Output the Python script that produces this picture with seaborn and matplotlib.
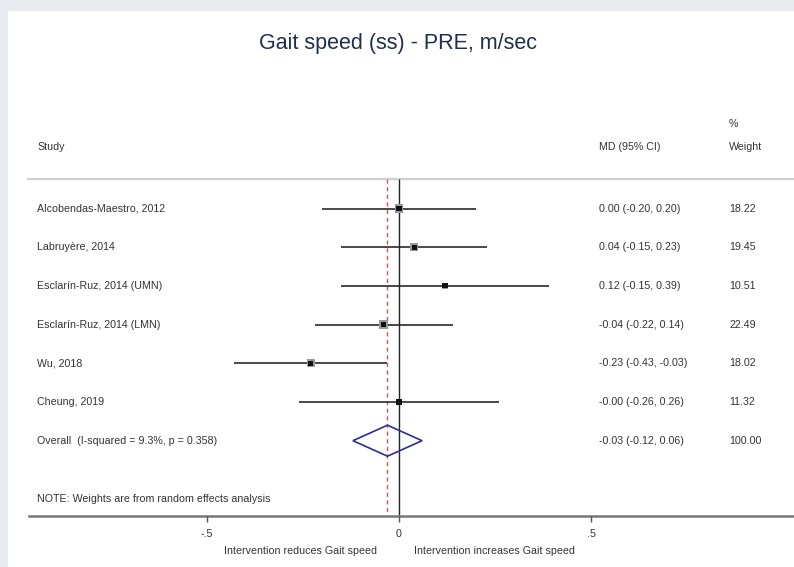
import matplotlib
matplotlib.use("Agg")
import matplotlib.pyplot as plt
import matplotlib.transforms as mtransforms
from matplotlib.patches import Rectangle, Polygon
import seaborn as sns
import pandas as pd

studies = ["Alcobendas-Maestro, 2012", "Labruyère, 2014", "Esclarín-Ruz, 2014 (UMN)",
           "Esclarín-Ruz, 2014 (LMN)", "Wu, 2018", "Cheung, 2019"]
md = [0.00, 0.04, 0.12, -0.04, -0.23, -0.00]
lo = [-0.20, -0.15, -0.15, -0.22, -0.43, -0.26]
hi = [0.20, 0.23, 0.39, 0.14, -0.03, 0.26]
ci_text = ["0.00 (-0.20, 0.20)", "0.04 (-0.15, 0.23)", "0.12 (-0.15, 0.39)",
           "-0.04 (-0.22, 0.14)", "-0.23 (-0.43, -0.03)", "-0.00 (-0.26, 0.26)"]
weights = [18.22, 19.45, 10.51, 22.49, 18.02, 11.32]
weight_text = ["18.22", "19.45", "10.51", "22.49", "18.02", "11.32"]
overall_label = "Overall  (I-squared = 9.3%, p = 0.358)"
overall_md, overall_lo, overall_hi = -0.03, -0.12, 0.06
overall_ci_text = "-0.03 (-0.12, 0.06)"
overall_weight_text = "100.00"
xticks = [-0.5, 0, 0.5]
xtick_labels = ["-.5", "0", ".5"]

W, H = 794, 567
fig = plt.figure(figsize=(W / 100, H / 100), dpi=100, facecolor="#e8ebf0")
ax = fig.add_axes([0, 0, 1, 1])
ax.set_facecolor("none")
ax.axis("off")

x0px, scale = 399, 384
ax.set_xlim(-x0px / scale, (W - x0px) / scale)
ax.set_ylim(H, 0)

ax.add_patch(Rectangle((8 / W, 0), 1 - 8 / W, (H - 11) / H, transform=fig.transFigure,
                       facecolor="white", edgecolor="none", zorder=-10, clip_on=False))

hdr = mtransforms.blended_transform_factory(fig.transFigure, ax.transData)
fx = lambda px: px / W

font = "Liberation Sans"
fs = 7.7
tc = "#333333"

row0, step = 208.5, 38.7
ys = [row0 + i * step for i in range(len(studies))]
y_over = row0 + len(studies) * step
y_note = 499
y_head = 179
y_axis = 516

df = pd.DataFrame({"study": studies, "md": md, "lo": lo, "hi": hi, "w": weights, "y": ys})

def txt(px, y, s, **kw):
    ax.text(fx(px), y, s, transform=hdr, fontsize=kw.pop("fontsize", fs), family=font,
            color=kw.pop("color", tc), va="center", **kw)

# title
txt(398, 43, "Gait speed (ss) - PRE, m/sec", ha="center", fontsize=15.5, color="#1f2d50")

# headers
txt(37, 147, "Study")
txt(599, 147, "MD (95% CI)")
txt(729, 147, "Weight")
txt(729, 124, "%")

# header separator line
ax.plot([fx(28), 1], [y_head, y_head], transform=hdr, color="#d0d0d0", lw=1.6, zorder=1)

# zero line and overall dashed line
ax.vlines(0, y_head, y_axis, color="#222222", lw=1.0, zorder=2)
ax.vlines(overall_md, y_head, y_axis, color="#e0505a", lw=1.0, linestyles=(0, (3, 2.5)), zorder=2)

# CI lines
ax.hlines(df["y"], df["lo"], df["hi"], color="#2a2a2a", lw=1.2, zorder=3)
# weight boxes (gray) and point estimates
sns.scatterplot(data=df, x="md", y="y", size="w", sizes=(22, 40), marker="s", color="#9a9a9a",
                edgecolor="none", legend=False, ax=ax, zorder=4)
sns.scatterplot(data=df, x="md", y="y", marker="s", s=14, color="#111111",
                edgecolor="none", legend=False, ax=ax, zorder=5)
ax.set_xlabel("")
ax.set_ylabel("")

# diamond
dh = 15.5
ax.add_patch(Polygon([[overall_lo, y_over], [overall_md, y_over - dh],
                      [overall_hi, y_over], [overall_md, y_over + dh]],
                     closed=True, fill=False, edgecolor="#2b2f8a", lw=1.2, zorder=6))

# labels and columns
for i, s in enumerate(studies):
    txt(37, ys[i], s)
    txt(599, ys[i], ci_text[i])
    txt(729, ys[i], weight_text[i])
txt(37, y_over, overall_label)
txt(599, y_over, overall_ci_text)
txt(729, y_over, overall_weight_text)
txt(37, y_note, "NOTE: Weights are from random effects analysis")

# x axis
ax.plot([fx(29), 1], [y_axis, y_axis], transform=hdr, color="#777777", lw=1.8, zorder=2)
for t, lab in zip(xticks, xtick_labels):
    ax.vlines(t, y_axis, y_axis + 6, color="#555555", lw=1.0)
    ax.text(t, 534, lab, ha="center", va="center", fontsize=fs, family=font, color=tc)
txt(301, 551, "Intervention reduces Gait speed", ha="center")
txt(494, 551, "Intervention increases Gait speed", ha="center")

fig.savefig("out.png", dpi=100, facecolor=fig.get_facecolor())
